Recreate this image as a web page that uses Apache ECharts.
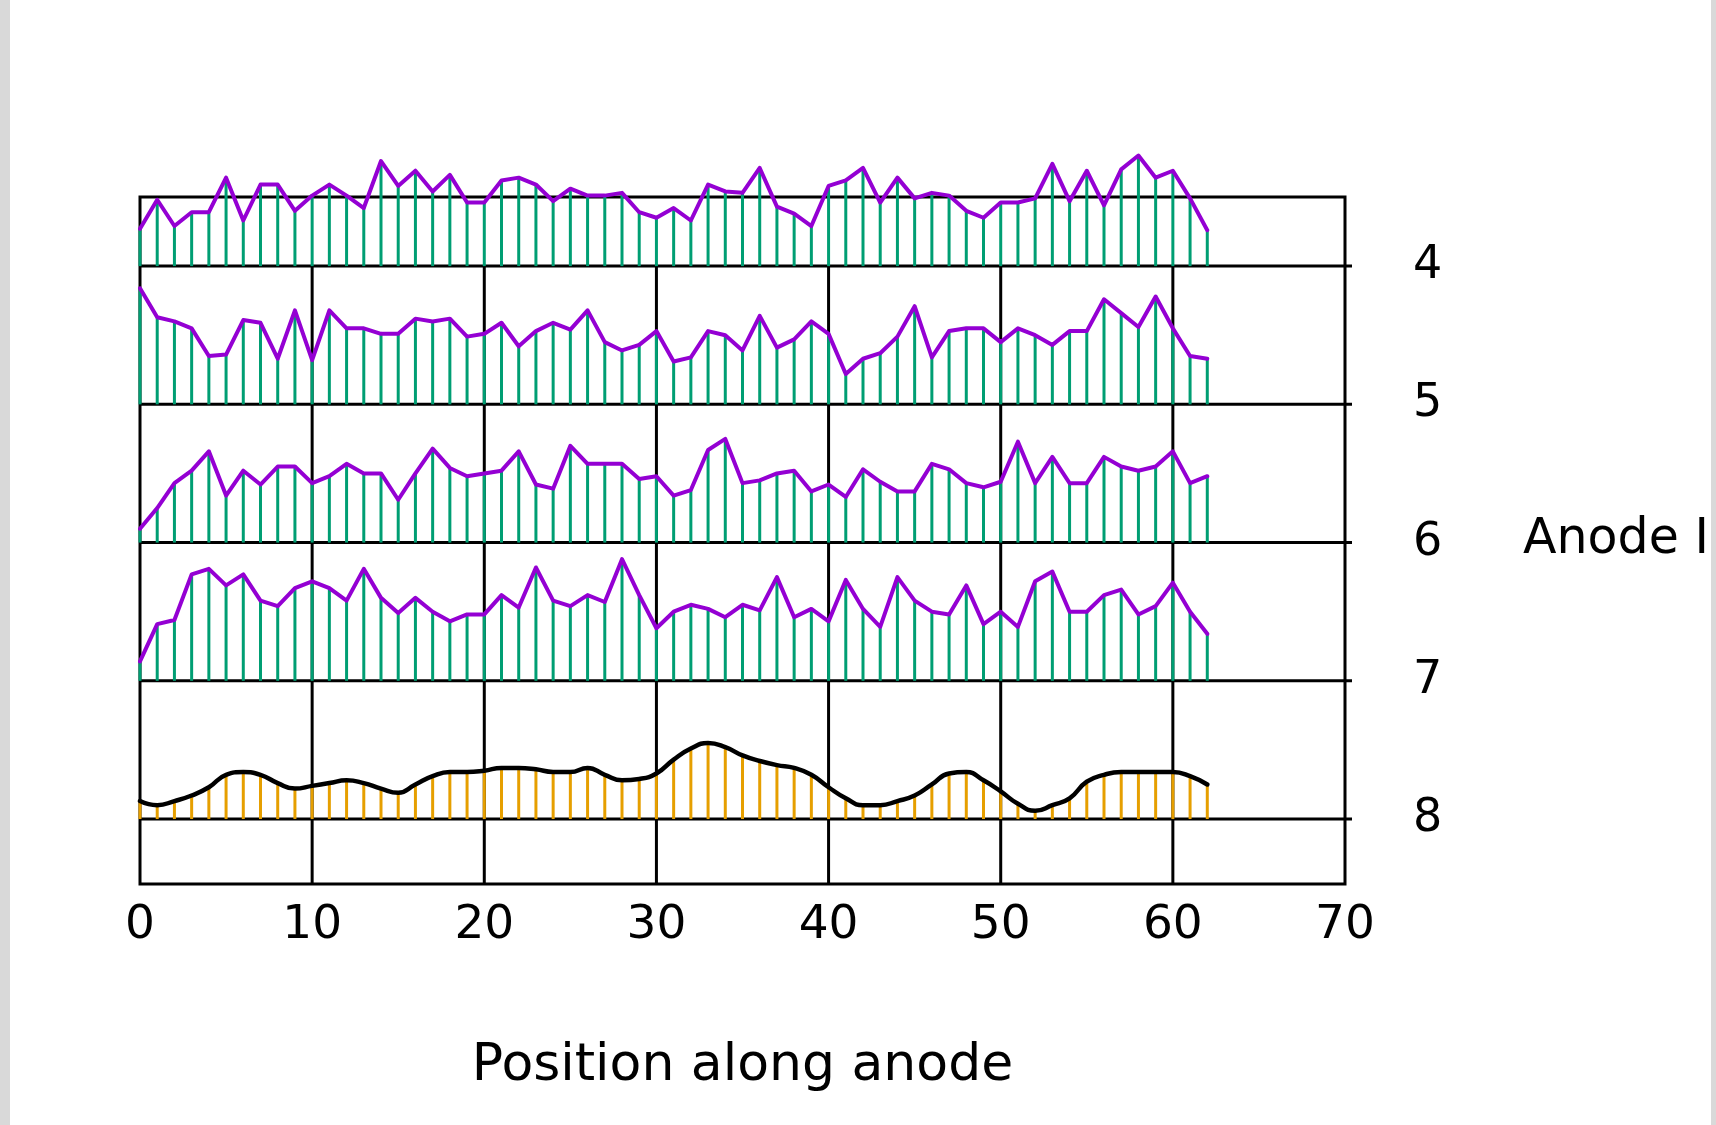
<!DOCTYPE html>
<html>
<head>
<meta charset="utf-8">
<script src="https://cdn.jsdelivr.net/npm/echarts@6/dist/echarts.min.js"></script>
<style>
html,body{margin:0;padding:0;background:#ffffff;}
#c{width:1716px;height:1125px;}
</style>
</head>
<body>
<div id="c"></div>
<script>
// ---- data ----
const positions = [0,1,2,3,4,5,6,7,8,9,10,11,12,13,14,15,16,17,18,19,20,21,22,23,24,25,26,27,28,29,30,31,32,33,34,35,36,37,38,39,40,41,42,43,44,45,46,47,48,49,50,51,52,53,54,55,56,57,58,59,60,61,62];
const rowLevels = [4,5,6,7,8];
const gridX = [10,20,30,40,50,60];
const xTitle = 'Position along anode';
const yTitle = 'Anode I';

// heights above each row's baseline (1 = one row spacing)
const anode4 = [0.27,0.48,0.29,0.39,0.39,0.64,0.33,0.59,0.59,0.40,0.51,0.59,0.51,0.42,0.76,0.58,0.69,0.54,0.66,0.46,0.46,0.62,0.64,0.59,0.47,0.56,0.51,0.51,0.53,0.39,0.35,0.42,0.33,0.59,0.54,0.53,0.71,0.43,0.38,0.29,0.58,0.62,0.71,0.46,0.64,0.49,0.53,0.51,0.40,0.35,0.46,0.46,0.49,0.74,0.47,0.69,0.44,0.70,0.80,0.64,0.69,0.49,0.26];
const anode5 = [0.84,0.63,0.60,0.55,0.35,0.36,0.61,0.59,0.33,0.68,0.32,0.68,0.55,0.55,0.51,0.51,0.62,0.60,0.62,0.49,0.51,0.59,0.42,0.53,0.59,0.54,0.68,0.45,0.39,0.43,0.53,0.31,0.34,0.53,0.50,0.39,0.64,0.41,0.47,0.60,0.51,0.22,0.33,0.37,0.49,0.71,0.34,0.53,0.55,0.55,0.45,0.55,0.50,0.43,0.53,0.53,0.76,0.66,0.56,0.78,0.55,0.35,0.33];
const anode6 = [0.10,0.25,0.43,0.52,0.66,0.34,0.52,0.42,0.55,0.55,0.43,0.48,0.57,0.50,0.50,0.31,0.50,0.68,0.54,0.48,0.50,0.52,0.66,0.42,0.39,0.70,0.57,0.57,0.57,0.46,0.48,0.34,0.38,0.67,0.75,0.43,0.45,0.50,0.52,0.37,0.42,0.33,0.53,0.44,0.37,0.37,0.57,0.53,0.43,0.40,0.44,0.73,0.43,0.62,0.43,0.43,0.62,0.55,0.52,0.55,0.66,0.43,0.48];
const anode7 = [0.14,0.41,0.44,0.77,0.81,0.69,0.77,0.58,0.54,0.67,0.72,0.67,0.58,0.81,0.60,0.49,0.60,0.50,0.43,0.48,0.48,0.62,0.53,0.82,0.58,0.54,0.62,0.57,0.88,0.62,0.38,0.50,0.55,0.52,0.46,0.55,0.51,0.75,0.46,0.52,0.43,0.73,0.52,0.39,0.75,0.58,0.50,0.48,0.69,0.41,0.50,0.39,0.72,0.79,0.50,0.50,0.62,0.66,0.48,0.54,0.71,0.50,0.34];
const anode8 = [0.13,0.10,0.13,0.17,0.23,0.32,0.34,0.32,0.26,0.22,0.24,0.26,0.28,0.26,0.22,0.19,0.25,0.31,0.34,0.34,0.35,0.37,0.37,0.36,0.34,0.34,0.37,0.32,0.28,0.29,0.33,0.43,0.51,0.55,0.52,0.46,0.42,0.39,0.37,0.32,0.23,0.15,0.10,0.10,0.13,0.17,0.25,0.33,0.34,0.28,0.20,0.11,0.06,0.10,0.15,0.27,0.32,0.34,0.34,0.34,0.34,0.31,0.25];

// ---- config ----
const FONT = 'DejaVu Sans';
const X_MIN = 0, X_MAX = 70, Y_MIN = 3.5, Y_MAX = 8.47;
const PURPLE = '#9400d3', GREEN = '#009e73', ORANGE = '#e69f00', BLACK = '#000000';
const FRAME_W = 3;

const chart = echarts.init(document.getElementById('c'), null, {renderer: 'canvas'});

function stemSeries(level, heights, color) {
  return {
    type: 'custom',
    silent: true,
    clip: false,
    z: 3,
    data: positions.map((x, i) => [x, level, level - heights[i]]),
    encode: {x: 0, y: [1, 2]},
    renderItem: function (params, api) {
      const a = api.coord([api.value(0), api.value(1)]);
      const b = api.coord([api.value(0), api.value(2)]);
      return {type: 'line', shape: {x1: a[0], y1: a[1], x2: b[0], y2: b[1]},
        style: {stroke: color, lineWidth: 3}};
    }
  };
}
function profileSeries(level, heights, color, smooth, width) {
  return {
    type: 'line',
    silent: true,
    clip: false,
    z: 5,
    symbol: 'none',
    smooth: smooth,
    lineStyle: {color: color, width: width, join: 'round', cap: 'round'},
    data: positions.map((x, i) => [x, level - heights[i]])
  };
}

const hLines = {
  type: 'custom', silent: true, clip: false, z: 2,
  data: rowLevels.map(r => [X_MIN, r]),
  encode: {x: 0, y: 1},
  renderItem: function (params, api) {
    const r = api.value(1);
    const a = api.coord([X_MIN, r]);
    const b = api.coord([X_MAX, r]);
    return {type: 'line', shape: {x1: a[0], y1: a[1], x2: b[0] + 7, y2: b[1]},
      style: {stroke: BLACK, lineWidth: FRAME_W}};
  }
};
const vLines = {
  type: 'custom', silent: true, clip: false, z: 2,
  data: gridX.map(x => [x, rowLevels[0]]),
  encode: {x: 0, y: 1},
  renderItem: function (params, api) {
    const x = api.value(0);
    const a = api.coord([x, rowLevels[0]]);
    const b = api.coord([x, Y_MAX]);
    return {type: 'line', shape: {x1: a[0], y1: a[1], x2: b[0], y2: b[1]},
      style: {stroke: BLACK, lineWidth: FRAME_W}};
  }
};

const option = {
  animation: false,
  backgroundColor: '#ffffff',
  textStyle: {fontFamily: FONT},
  grid: {left: 140, top: 197, width: 1205, height: 687, show: true,
    borderColor: BLACK, borderWidth: FRAME_W, backgroundColor: 'transparent'},
  xAxis: {
    type: 'value', min: X_MIN, max: X_MAX, interval: 10,
    axisLine: {show: false}, axisTick: {show: false}, splitLine: {show: false},
    axisLabel: {fontSize: 47, color: BLACK, margin: 18, fontFamily: FONT},
    name: xTitle, nameLocation: 'middle', nameGap: 156,
    nameTextStyle: {fontSize: 52, color: BLACK, fontFamily: FONT}
  },
  yAxis: {
    type: 'value', inverse: true, min: Y_MIN, max: Y_MAX, interval: 0.5,
    position: 'right',
    axisLine: {show: false}, axisTick: {show: false}, splitLine: {show: false},
    axisLabel: {
      fontSize: 46, color: BLACK, margin: 68, fontFamily: FONT,
      formatter: v => (rowLevels.indexOf(v) >= 0 ? String(v) : '')
    },
    name: yTitle, nameLocation: 'middle', nameRotate: 0, nameGap: 178,
    nameTextStyle: {fontSize: 49, color: BLACK, fontFamily: FONT, align: 'left'}
  },
  graphic: [
    {type: 'rect', shape: {x: 0, y: 0, width: 10, height: 1125}, style: {fill: '#d9d9d9'}, z: 100},
    {type: 'rect', shape: {x: 1711, y: 0, width: 5, height: 1125}, style: {fill: '#d9d9d9'}, z: 100}
  ],
  series: [
    hLines, vLines,
    stemSeries(4, anode4, GREEN), profileSeries(4, anode4, PURPLE, false, 4),
    stemSeries(5, anode5, GREEN), profileSeries(5, anode5, PURPLE, false, 4),
    stemSeries(6, anode6, GREEN), profileSeries(6, anode6, PURPLE, false, 4),
    stemSeries(7, anode7, GREEN), profileSeries(7, anode7, PURPLE, false, 4),
    stemSeries(8, anode8, ORANGE), profileSeries(8, anode8, BLACK, 0.5, 4.5)
  ]
};
chart.setOption(option);
</script>
</body>
</html>
